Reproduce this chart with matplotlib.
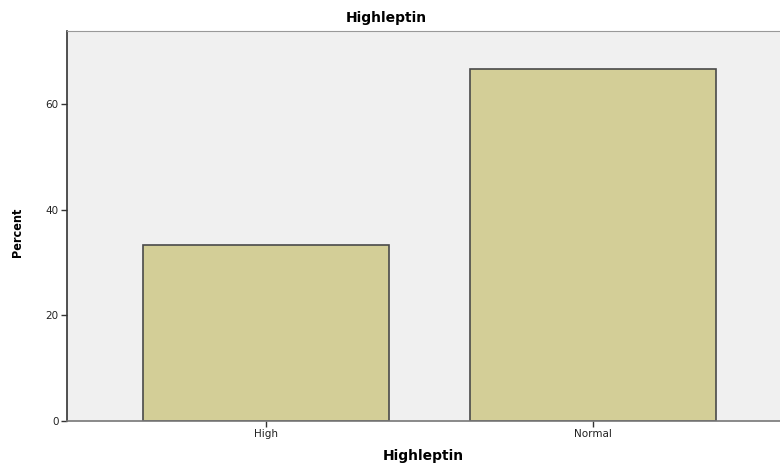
import matplotlib
matplotlib.use("Agg")
import matplotlib.pyplot as plt

categories = ["High", "Normal"]
percents = [33.33, 66.67]
yticks = [0, 20, 40, 60]

fig = plt.figure(figsize=(7.8, 4.65), dpi=100)
ax = fig.add_axes([67/780, 1 - 421/465, 1 - 67/780, (421 - 31)/465])
ax.set_facecolor("#F0F0F0")
x = range(len(categories))
ax.bar(x, percents, width=0.75, color="#D3CE97", edgecolor="#4a4a4a", linewidth=1.2, zorder=2)
ax.set_xlim(-0.608, 1.572)
ax.set_ylim(0, 73.8)
ax.set_xticks(list(x))
ax.set_xticklabels(categories, fontsize=7.5, color="#222222")
ax.set_yticks(yticks)
ax.set_yticklabels([str(v) for v in yticks], fontsize=7.5, color="#222222")
ax.tick_params(axis="both", length=4, width=1, color="#333333", pad=2)
ax.spines["right"].set_visible(False)
ax.spines["top"].set_color("#999999")
ax.spines["left"].set_color("#333333")
ax.spines["bottom"].set_color("#777777")
ax.spines["left"].set_linewidth(1.2)
ax.spines["bottom"].set_linewidth(1.2)

fig.text(386/780, 1 - 18/465, "Highleptin", ha="center", va="center", fontsize=10, fontweight="bold")
fig.text(423/780, 1 - 456/465, "Highleptin", ha="center", va="center", fontsize=10, fontweight="bold")
fig.text(18/780, 1 - 232/465, "Percent", ha="center", va="center", rotation=90, fontsize=9, fontweight="bold", fontstretch="condensed")

fig.savefig("out.png", dpi=100)
